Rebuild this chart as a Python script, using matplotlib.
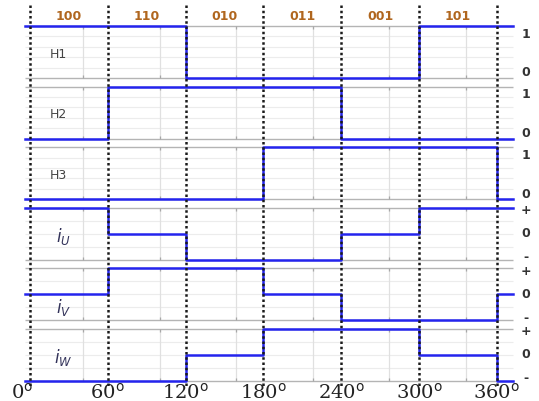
import matplotlib.pyplot as plt

# DATA
angles = [0, 60, 120, 180, 240, 300, 360]
angle_labels = ['0', '60', '120', '180', '240', '300', '360']
sectors = ['100', '110', '010', '011', '001', '101']

# level of each signal in each 60 degree sector
H1 = [1, 1, 0, 0, 0, 1]
H2 = [0, 1, 1, 1, 0, 0]
H3 = [0, 0, 0, 1, 1, 1]
iU = [1, 0, -1, -1, 0, 1]
iV = [0, 1, 1, 0, -1, -1]
iW = [-1, -1, 0, 1, 1, 0]

hall = [('H1', H1), ('H2', H2), ('H3', H3)]
currents = [(r'$i_U$', iU), (r'$i_V$', iV), (r'$i_W$', iW)]

# LAYOUT (pixel-like units, y grows downward)
top0 = 27.0      # top level of first panel
pitch = 60.6     # distance between panels
amp = 52.0       # height of a panel
blue = '#2424ee'

fig = plt.figure(figsize=(5.39, 4.02), dpi=100)
ax = fig.add_axes([0, 0, 1, 1])
ax.set_xlim(-23.1, 392.4)
ax.set_ylim(402, 0)
ax.axis('off')

x_lo, x_hi = -3.5, 372.5
grid_x = [41, 100, 159, 218, 277, 336]


def panel_y(i, level, current):
    top = top0 + pitch * i
    if current:
        return top + (1 - level) * amp / 2
    return top + (1 - level) * amp


signals = [(n, s, False) for n, s in hall] + [(n, s, True) for n, s in currents]

for i, (name, levels, current) in enumerate(signals):
    top = top0 + pitch * i
    bot = top + amp
    # panel frame and light grid
    ax.hlines([top, bot], x_lo, x_hi, color='#b4b4b4', lw=1.0, zorder=1)
    n_div = 4 if current else 5
    inner = [top + amp * k / n_div for k in range(1, n_div)]
    ax.hlines(inner, x_lo, x_hi, color='#ececec', lw=0.8, zorder=0)
    ax.vlines(grid_x, top, bot, color='#e0e0e0', lw=0.9, zorder=0)
    ax.vlines(grid_x, top, top + 3, color='#a8a8a8', lw=0.9, zorder=1)
    ax.vlines(grid_x, bot - 3, bot, color='#a8a8a8', lw=0.9, zorder=1)

    # signal as a periodic step line
    xs = [x_lo] + angles[1:] + [x_hi]
    ys = [panel_y(i, v, current) for v in levels + [levels[0], levels[0]]]
    ax.step(xs, ys, where='post', color=blue, lw=1.8, zorder=3)

    # labels
    if current:
        ax.text(26, top + 28 + (10 if name == r'$i_V$' else 0), name,
                fontsize=12, color='#33335a', family='DejaVu Serif',
                ha='center', va='center')
        for lab, v, dy in [('+', 1, 2), ('0', 0, -1), ('-', -1, -3)]:
            ax.text(382, panel_y(i, v, True) + dy, lab, fontsize=9,
                    color='#333333', fontweight='bold', ha='center', va='center')
    else:
        ax.text(22, top + 27, name, fontsize=9, color='#444444',
                ha='center', va='center')
        ax.text(382, top + 7, '1', fontsize=9, color='#333333',
                fontweight='bold', ha='center', va='center')
        ax.text(382, bot - 6, '0', fontsize=9, color='#333333',
                fontweight='bold', ha='center', va='center')

# sector boundaries
ax.vlines(angles, 6, 387, colors='#1a1a1a', lw=1.8,
          linestyles=(0, (1.0, 1.1)), zorder=4)

# sector codes
for k, code in enumerate(sectors):
    mid = (angles[k] + angles[k + 1]) / 2
    ax.text(mid, 16, code, fontsize=9, color='#b0661e', fontweight='bold',
            ha='center', va='center')

# angle labels
for a, lab in zip(angles, angle_labels):
    ax.text(a - (6 if a == 0 else 0), 393, lab + r'$^{\mathsf{o}}$',
            fontsize=14, family='DejaVu Serif', color='#222222',
            ha='center', va='center')

fig.savefig('out.png', dpi=100)
